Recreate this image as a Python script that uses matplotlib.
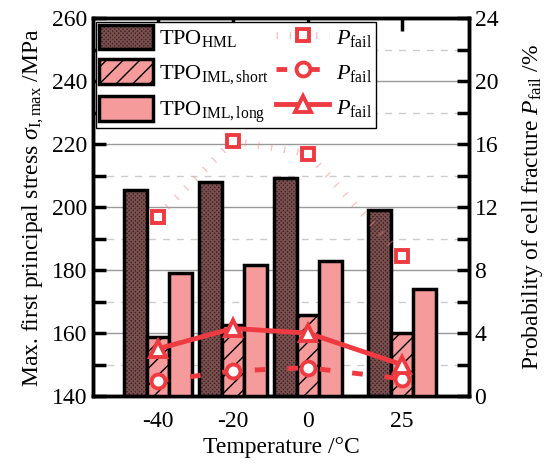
import numpy as np
import matplotlib.pyplot as plt
from matplotlib.ticker import MultipleLocator
from matplotlib.legend_handler import HandlerTuple

plt.rcParams["font.family"] = ["Liberation Serif", "DejaVu Serif"]
plt.rcParams["mathtext.fontset"] = "custom"
plt.rcParams["mathtext.rm"] = "Liberation Serif"
plt.rcParams["mathtext.it"] = "Liberation Serif:italic"
plt.rcParams["hatch.linewidth"] = 1.0

temps = [-40, -20, 0, 25]
temp_labels = ["-40", "-20", "0", "25"]

# max. first principal stress /MPa
stress_hml = [205.6, 208.0, 209.3, 199.0]
stress_short = [158.8, 162.5, 165.7, 159.9]
stress_long = [179.0, 181.6, 183.0, 173.9]

# probability of cell fracture /%
pfail_hml = [11.4, 16.2, 15.4, 8.9]
pfail_short = [0.95, 1.6, 1.8, 1.1]
pfail_long = [3.0, 4.3, 4.0, 2.0]

red = "#ee3b42"
pink = "#f59b9b"
dark = "#3e2222"

x = np.array(temps, dtype=float)
w = 6.0
fs = 17

fig, ax = plt.subplots(figsize=(5.46, 4.66), dpi=100)
fig.subplots_adjust(left=0.170, right=0.859, bottom=0.150, top=0.961)

# bars
b1f = ax.bar(x - w, stress_hml, w, color=dark, hatch="xxxxxxxx", edgecolor="#7a4f4f", lw=0, zorder=2)
b1 = ax.bar(x - w, stress_hml, w, facecolor="none", edgecolor="black", lw=2.5, zorder=3)
b2 = ax.bar(x, stress_short, w, color=pink, hatch="//", edgecolor="black", lw=2.5, zorder=3)
b3 = ax.bar(x + w, stress_long, w, color=pink, edgecolor="black", lw=2.5, zorder=3)

ax.set_xlim(-57.3, 42.9)
ax.set_ylim(140, 260)
ax.yaxis.set_major_locator(MultipleLocator(20))
ax.yaxis.set_minor_locator(MultipleLocator(10))
ax.grid(True, which="major", axis="y", color="#999999", lw=1.0, zorder=0)
ax.grid(True, which="minor", axis="y", color="#cccccc", lw=1.0, ls=(0, (5, 5)), zorder=0)
ax.set_axisbelow(True)

ax.set_xticks(temps)
ax.set_xticklabels(temp_labels)
ax.tick_params(axis="x", bottom=False, top=True, labelbottom=True, direction="in",
               length=9, width=2.5, labelsize=fs, pad=11)
ax.tick_params(axis="y", which="both", direction="in", length=9, width=2.5, labelsize=fs, pad=4)
for s in ax.spines.values():
    s.set_linewidth(2.5)

ax.set_xlabel("Temperature /°C", fontsize=fs, labelpad=3)
ax.set_ylabel(r"Max. first principal stress $\sigma_{\rm I,max}$ /MPa", fontsize=fs, labelpad=4)

# failure probability
ax2 = ax.twinx()
l1, = ax2.plot(x, pfail_hml, color="#f28a8a", alpha=0.5, lw=5, ls=(0, (0.2, 1.7)),
               dash_capstyle="butt", zorder=4)
m1, = ax2.plot(x, pfail_hml, ls="none", marker="s", ms=9, mfc="white", mec=red, mew=2.8, zorder=5)
l2, = ax2.plot(x, pfail_short, color=red, lw=3.5, ls=(0, (2.2, 4.5)), dash_capstyle="butt",
               marker="o", ms=10, mfc="white", mec=red, mew=2.8, zorder=5)
l3, = ax2.plot(x, pfail_long, color=red, lw=3.5, marker="^", ms=11, mfc="white", mec=red,
               mew=2.8, zorder=5)
ax2.set_ylim(0, 24)
ax2.yaxis.set_major_locator(MultipleLocator(4))
ax2.yaxis.set_minor_locator(MultipleLocator(2))
ax2.tick_params(axis="y", which="both", direction="in", length=9, width=2.5, labelsize=fs, pad=4)
ax2.set_ylabel(r"Probability of cell fracture $P_{\rm fail}$ /%", fontsize=fs, labelpad=16)
for s in ax2.spines.values():
    s.set_linewidth(2.5)

handles = [(b1f, b1), b2, b3, (l1, m1), l2, l3]
labels = [r"TPO$_{\rm HML}$", r"TPO$_{\rm IML,short}$", r"TPO$_{\rm IML,long}$",
          r"$P_{\rm fail}$", r"$P_{\rm fail}$", r"$P_{\rm fail}$"]
leg = ax2.legend(handles, labels, ncol=2, loc="upper left", bbox_to_anchor=(0.0, 1.0),
                 fontsize=16, frameon=True, fancybox=False, edgecolor="black",
                 framealpha=1, borderpad=0.15, labelspacing=0.45, handlelength=2.4,
                 handleheight=1.3, handletextpad=0.3, columnspacing=0.3, borderaxespad=0.15,
                 handler_map={tuple: HandlerTuple(ndivide=1, pad=0)})
leg.get_frame().set_linewidth(1.0)

fig.savefig("out.png", dpi=100)
